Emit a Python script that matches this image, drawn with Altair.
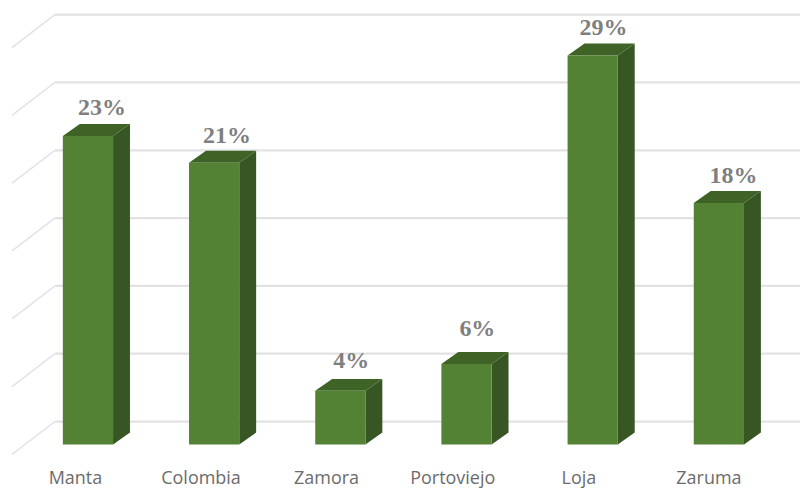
import altair as alt
import pandas as pd

# Survey shares by city
categories = ["Manta", "Colombia", "Zamora", "Portoviejo", "Loja", "Zaruma"]
values = [23, 21, 4, 6, 29, 18]
value_labels = ["23%", "21%", "4%", "6%", "29%", "18%"]
grid_levels = [0, 5.06, 10.11, 15.17, 20.22, 25.28, 30.33]

# Pseudo-3D geometry, in data units (category slots and percentage points)
BAR_W = 0.398
DEPTH_X = 0.134
DEPTH_Y = 0.89
WALL_X0, WALL_X1 = -0.403, -0.063
WALL_Y0, WALL_Y1 = -0.74, 1.71
X_RIGHT = 5.842
LABEL_LIFT = [2.08, 2.0, 2.2, 2.6, 2.08, 2.0]
LABEL_SHIFT = [0.31, 0.3, 0.285, 0.285, 0.285, 0.315]
CATEGORY_SHIFT = [0.1, 0.095, 0.09, 0.09, 0.09, 0.12]

x_scale = alt.Scale(domain=[-0.498, X_RIGHT], nice=False, zero=False)
y_scale = alt.Scale(domain=[-3.42, 33.09], nice=False, zero=False)
X = lambda f="x": alt.X(f"{f}:Q", scale=x_scale, axis=None)
Y = lambda f="y": alt.Y(f"{f}:Q", scale=y_scale, axis=None)

front, side, top = [], [], []
for i, (c, v) in enumerate(zip(categories, values)):
    x0, x1 = i, i + BAR_W
    front.append({"c": c, "x": x0, "x2": x1, "y": 0, "y2": v})
    side += [
        {"c": c, "x": x1, "y": 0, "y2": v},
        {"c": c, "x": x1 + DEPTH_X, "y": DEPTH_Y, "y2": v + DEPTH_Y},
    ]
    top += [
        {"c": c, "x": x0, "y": v, "y2": v},
        {"c": c, "x": x0 + DEPTH_X, "y": v, "y2": v + DEPTH_Y},
        {"c": c, "x": x1, "y": v, "y2": v + DEPTH_Y},
        {"c": c, "x": x1 + DEPTH_X, "y": v + DEPTH_Y, "y2": v + DEPTH_Y},
    ]

grid_back = pd.DataFrame(
    [{"g": g, "x": WALL_X1, "x2": X_RIGHT, "y": g + WALL_Y1} for g in grid_levels]
)
grid_wall = pd.DataFrame(
    [{"g": g, "x": WALL_X0, "y": g + WALL_Y0} for g in grid_levels]
    + [{"g": g, "x": WALL_X1, "y": g + WALL_Y1} for g in grid_levels]
)

value_text = pd.DataFrame(
    {
        "x": [i + d for i, d in enumerate(LABEL_SHIFT)],
        "y": [v + d for v, d in zip(values, LABEL_LIFT)],
        "t": value_labels,
    }
)
cat_text = pd.DataFrame(
    {
        "x": [i + d for i, d in enumerate(CATEGORY_SHIFT)],
        "y": [-2.6] * len(categories),
        "t": categories,
    }
)

back_lines = (
    alt.Chart(grid_back)
    .mark_rule(color="#e2e2e2", strokeWidth=2.2)
    .encode(x=X(), x2="x2:Q", y=Y())
)
wall_lines = (
    alt.Chart(grid_wall)
    .mark_line(color="#e4e4e4", strokeWidth=1.6)
    .encode(x=X(), y=Y(), detail="g:N")
)
front_faces = (
    alt.Chart(pd.DataFrame(front))
    .mark_rect(color="#548235")
    .encode(x=X(), x2="x2:Q", y=Y(), y2="y2:Q")
)
side_faces = (
    alt.Chart(pd.DataFrame(side))
    .mark_area(color="#375623", opacity=1)
    .encode(x=X(), y=Y(), y2="y2:Q", detail="c:N")
)
top_faces = (
    alt.Chart(pd.DataFrame(top))
    .mark_area(color="#3f6326", opacity=1)
    .encode(x=X(), y=Y(), y2="y2:Q", detail="c:N")
)
value_marks = (
    alt.Chart(value_text)
    .mark_text(
        font="Liberation Serif",
        fontSize=24,
        fontWeight="bold",
        color="#7f7f7f",
        align="center",
        baseline="middle",
    )
    .encode(x=X(), y=Y(), text="t:N")
)
cat_marks = (
    alt.Chart(cat_text)
    .mark_text(
        font="Open Sans",
        fontSize=18,
        color="#6b6b6b",
        align="center",
        baseline="middle",
    )
    .encode(x=X(), y=Y(), text="t:N")
)

chart = (
    alt.layer(
        back_lines, wall_lines, side_faces, top_faces, front_faces, value_marks, cat_marks
    )
    .properties(width=802, height=491, padding=0, background="white")
    .configure_view(stroke=None)
)

chart.save("out.html", embed_options={"renderer": "svg", "actions": False})
